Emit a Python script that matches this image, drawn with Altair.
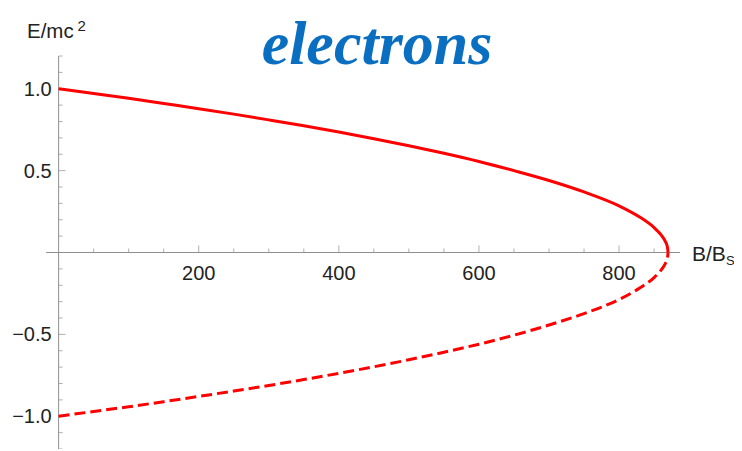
import altair as alt
import pandas as pd

# ---- data ----
B_vals = [0, 50, 100, 150, 200, 250, 300, 350, 400, 450, 500, 550, 600, 650,
          700, 750, 800, 830, 850, 860, 866, 869, 870]
E_upper = [1.0, 0.971, 0.942, 0.910, 0.878, 0.845, 0.810, 0.774, 0.736, 0.695,
           0.652, 0.606, 0.556, 0.500, 0.440, 0.370, 0.285, 0.215, 0.152, 0.107,
           0.068, 0.034, 0.0]
E_lower = [-1.0, -0.971, -0.942, -0.911, -0.879, -0.846, -0.812, -0.776, -0.738,
           -0.698, -0.655, -0.609, -0.560, -0.505, -0.443, -0.373, -0.287, -0.216,
           -0.153, -0.107, -0.068, -0.034, 0.0]

x_major = [200, 400, 600, 800]
x_minor = [50, 100, 150, 250, 300, 350, 450, 500, 550, 650, 700, 750, 850]
y_major = [1.0, 0.5, -0.5, -1.0]
y_major_labels = ["1.0", "0.5", "\u22120.5", "\u22121.0"]
y_minor = [1.2, 1.1, 0.9, 0.8, 0.7, 0.6, 0.4, 0.3, 0.2, 0.1,
           -0.1, -0.2, -0.3, -0.4, -0.6, -0.7, -0.8, -0.9, -1.1, -1.2]

x_domain = [-18, 887]
y_domain = [-1.2, 1.2]

AX = "#8f8f8f"
TXT = "#222222"
FONT = "Liberation Sans"

xs = alt.Scale(domain=x_domain, nice=False, zero=False)
ys = alt.Scale(domain=y_domain, nice=False, zero=False)
X = lambda f: alt.X(f, scale=xs, axis=None)
Y = lambda f: alt.Y(f, scale=ys, axis=None)

upper = pd.DataFrame({"B": B_vals, "E": E_upper})
lower = pd.DataFrame({"B": B_vals, "E": E_lower})
xmaj = pd.DataFrame({"B": x_major, "lab": [str(v) for v in x_major], "E": 0.0})
xmin = pd.DataFrame({"B": x_minor, "E": 0.0})
ymaj = pd.DataFrame({"E": y_major, "lab": y_major_labels, "B": 0.0})
ymin = pd.DataFrame({"E": y_minor, "B": 0.0})
one = pd.DataFrame({"k": [0]})

x_axis_line = alt.Chart(one).mark_rule(color=AX, strokeWidth=1).encode(y=alt.Y(datum=0, scale=ys, axis=None))
y_axis_line = alt.Chart(one).mark_rule(color=AX, strokeWidth=1).encode(x=alt.X(datum=0, scale=xs, axis=None))

x_major_ticks = alt.Chart(xmaj).mark_tick(orient="vertical", size=7, thickness=1, color=AX, yOffset=-3.5).encode(
    x=X("B:Q"), y=Y("E:Q"))
x_minor_ticks = alt.Chart(xmin).mark_tick(orient="vertical", size=4, thickness=1, color=AX, yOffset=-2).encode(
    x=X("B:Q"), y=Y("E:Q"))
y_major_ticks = alt.Chart(ymaj).mark_tick(orient="horizontal", size=7, thickness=1, color=AX, xOffset=3.5).encode(
    x=X("B:Q"), y=Y("E:Q"))
y_minor_ticks = alt.Chart(ymin).mark_tick(orient="horizontal", size=4, thickness=1, color=AX, xOffset=2).encode(
    x=X("B:Q"), y=Y("E:Q"))

x_labels = alt.Chart(xmaj).mark_text(font=FONT, fontSize=20, color=TXT, baseline="top", align="center", dy=11).encode(
    x=X("B:Q"), y=Y("E:Q"), text="lab:N")
y_labels = alt.Chart(ymaj).mark_text(font=FONT, fontSize=20, color=TXT, baseline="middle", align="right", dx=-7, dy=1).encode(
    x=X("B:Q"), y=Y("E:Q"), text="lab:N")

upper_line = alt.Chart(upper).mark_line(color="#ff0000", strokeWidth=3, interpolate="monotone").encode(
    x=X("B:Q"), y=Y("E:Q"))
lower_line = alt.Chart(lower).mark_line(color="#ff0000", strokeWidth=3, interpolate="monotone",
                                        strokeDash=[11, 5]).encode(
    x=X("B:Q"), y=Y("E:Q"))

# annotation texts (one row each)
y_title = alt.Chart(one).mark_text(text="E/mc", font=FONT, fontSize=20.5, color=TXT, align="left",
                                   baseline="alphabetic").encode(x=alt.value(-19), y=alt.value(-18.5))
y_title_sup = alt.Chart(one).mark_text(text="2", font=FONT, fontSize=15, color=TXT, align="left",
                                       baseline="alphabetic").encode(x=alt.value(31.5), y=alt.value(-25))
x_title = alt.Chart(one).mark_text(text="B/B", font=FONT, fontSize=21, color=TXT, align="left",
                                   baseline="alphabetic").encode(x=alt.value(646), y=alt.value(205))
x_title_sub = alt.Chart(one).mark_text(text="S", font=FONT, fontSize=13, color=TXT, align="left",
                                       baseline="alphabetic").encode(x=alt.value(680), y=alt.value(209))
big_title = alt.Chart(one).mark_text(text="electrons", font="Liberation Serif", fontSize=62, fontStyle="italic",
                                     fontWeight="bold", color="#0b6fc1", align="center",
                                     baseline="alphabetic").encode(x=alt.value(331), y=alt.value(8))

chart = alt.layer(
    x_axis_line, y_axis_line, x_minor_ticks, x_major_ticks, y_minor_ticks, y_major_ticks,
    x_labels, y_labels, upper_line, lower_line,
    y_title, y_title_sup, x_title, x_title_sub, big_title,
).properties(
    width=634, height=393, autosize="none",
    padding={"left": 38, "top": 48, "right": 54, "bottom": 0},
    background="white",
).configure_view(strokeWidth=0)

chart.save("out.html", embed_options={"renderer": "svg", "actions": False})
